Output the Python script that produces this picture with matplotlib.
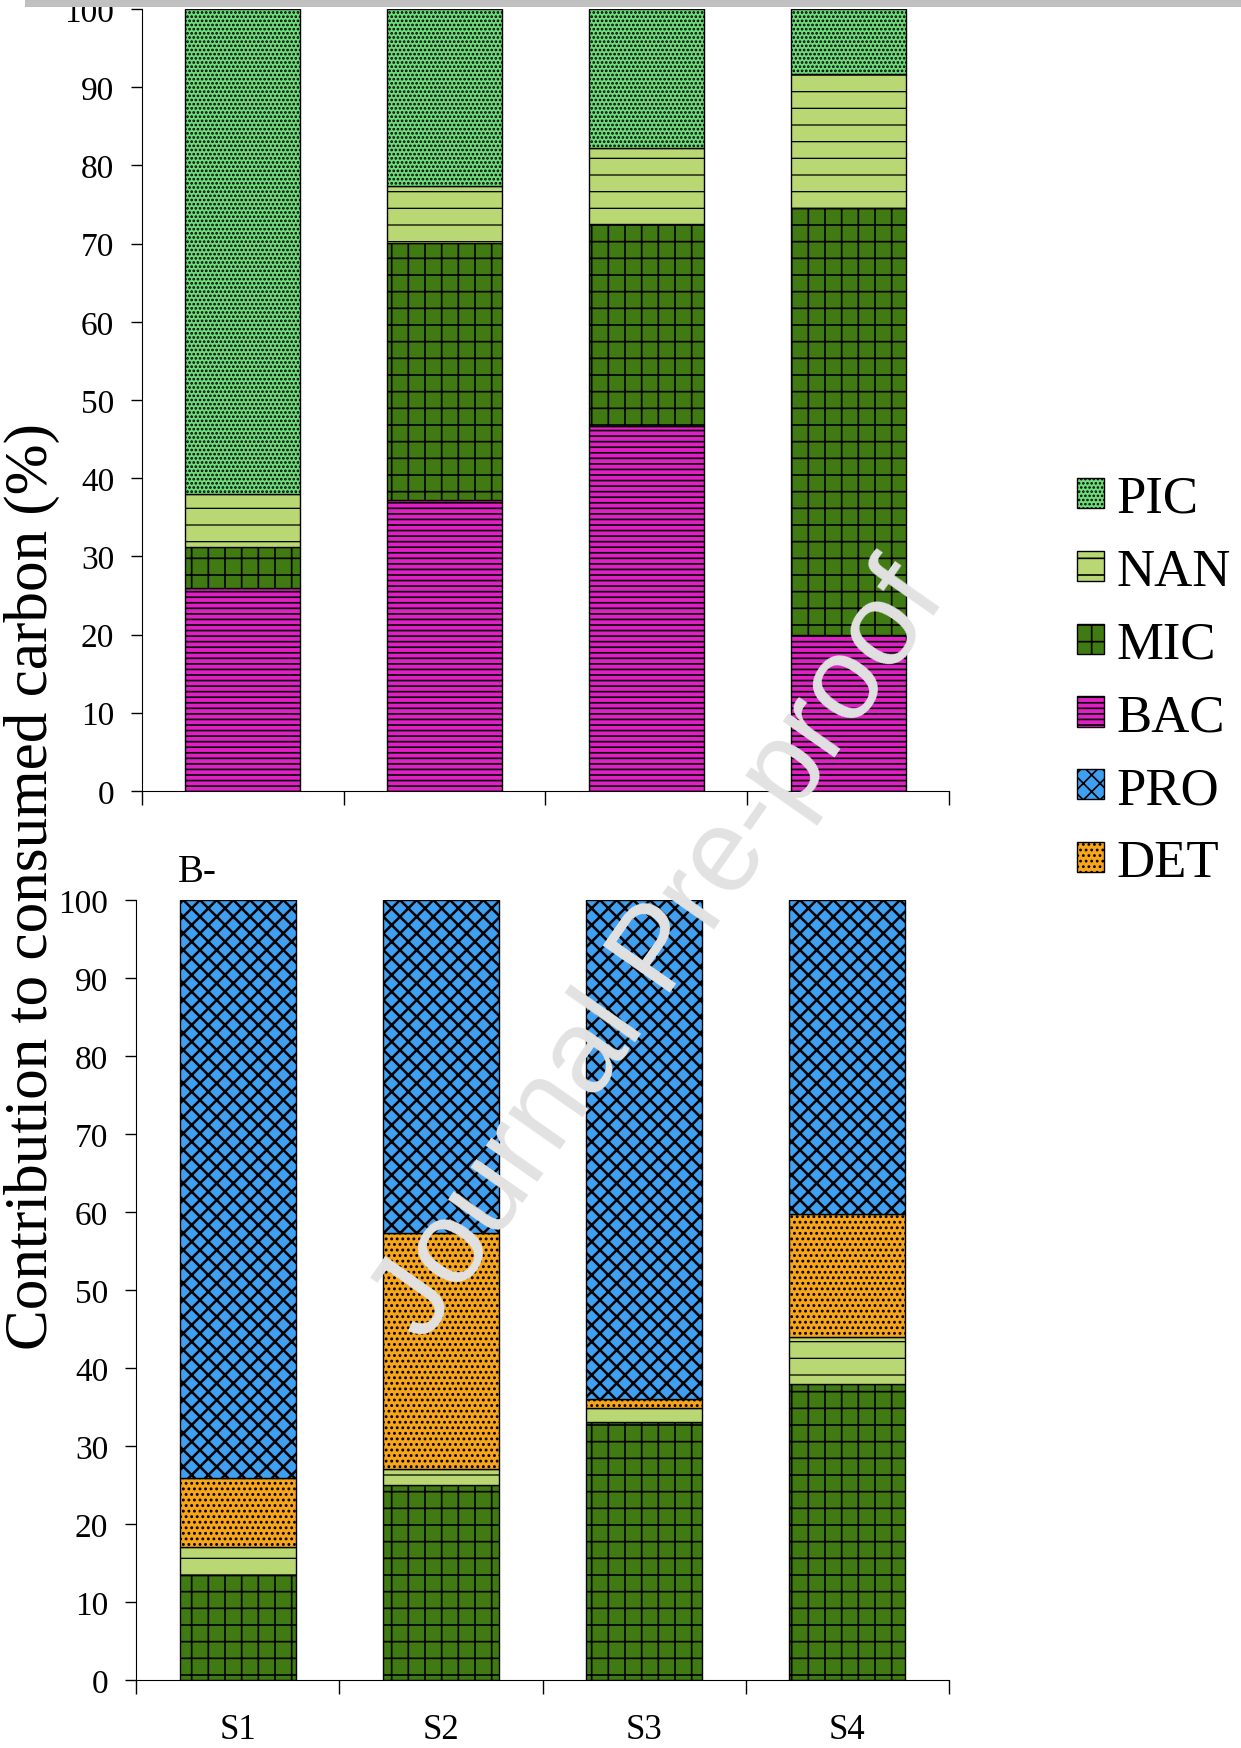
import matplotlib.pyplot as plt
from matplotlib.patches import Patch, Rectangle
import numpy as np

plt.rcParams['font.family'] = ['Liberation Serif', 'DejaVu Serif']
plt.rcParams['hatch.linewidth'] = 1.2

# data
sites = ['S1', 'S2', 'S3', 'S4']

# panel A (stacked from bottom)
bac_a = [25.9, 37.2, 46.7, 19.9]
mic_a = [5.3, 32.9, 25.8, 54.7]
nan_a = [6.8, 7.3, 9.7, 17.1]
pic_a = [62.0, 22.6, 17.8, 8.3]

# panel B (stacked from bottom)
mic_b = [13.4, 25.0, 33.1, 38.0]
nan_b = [3.7, 2.1, 1.8, 6.0]
det_b = [8.8, 30.2, 1.1, 15.7]
pro_b = [74.1, 42.7, 64.0, 40.3]

# look of each group: colour, hatch, hatch line width
style = {
    'PIC': ('#6fdc7c', '....', 1.3),
    'NAN': ('#b9d873', '-', 0.9),
    'MIC': ('#3f7a12', '+', 1.2),
    'BAC': ('#e020c4', '---', 1.2),
    'PRO': ('#3f9ff0', 'xx', 1.8),
    'DET': ('#f7a51a', '...', 1.3),
}

fig = plt.figure(figsize=(12.41, 17.49), dpi=100)
axA = fig.add_axes([0.1144, 0.5472, 0.6503, 0.4471])
axB = fig.add_axes([0.1096, 0.0389, 0.6551, 0.4459])

x = np.arange(len(sites))
w = 0.57

def stack(ax, series):
    bottom = np.zeros(len(sites))
    for name, vals in series:
        col, h, hlw = style[name]
        with plt.rc_context({'hatch.linewidth': hlw}):
            ax.bar(x, vals, w, bottom=bottom, color=col, hatch=h,
                   edgecolor='black', linewidth=1.0)
        bottom += np.array(vals)

stack(axA, [('BAC', bac_a), ('MIC', mic_a), ('NAN', nan_a), ('PIC', pic_a)])
stack(axB, [('MIC', mic_b), ('NAN', nan_b), ('DET', det_b), ('PRO', pro_b)])

for ax in (axA, axB):
    ax.set_xlim(-0.5, 3.5)
    ax.set_ylim(0, 100)
    ax.set_yticks(np.arange(0, 101, 10))
    ax.spines['top'].set_visible(False)
    ax.spines['right'].set_visible(False)
    ax.tick_params(axis='y', labelsize=24, length=8, width=1, direction='out', pad=12)
    ax.set_xticks(x)
    ax.set_xticks(np.arange(-0.5, 4, 1), minor=True)
    ax.tick_params(axis='x', which='major', length=0, labelsize=25, pad=24)
    ax.tick_params(axis='x', which='minor', length=10, width=1, direction='out')

axA.set_xticklabels([])
axB.set_xticklabels(sites)

fig.text(0.0255, 0.493, 'Contribution to consumed carbon (%)', rotation=90,
         ha='center', va='center', fontsize=44)
fig.text(0.1434, 0.5014, 'B-', ha='left', va='center', fontsize=28)

names = ['PIC', 'NAN', 'MIC', 'BAC', 'PRO', 'DET']
handles = []
for n in names:
    with plt.rc_context({'hatch.linewidth': style[n][2]}):
        handles.append(Patch(facecolor=style[n][0], hatch=style[n][1],
                             edgecolor='black', linewidth=1))
fig.legend(handles, names, loc='upper left', bbox_to_anchor=(0.851, 0.74),
           frameon=False, fontsize=38, handlelength=0.5, handleheight=0.5,
           handletextpad=0.25, labelspacing=0.47, borderaxespad=0)

# watermark
fig.text(0.533, 0.455, 'Journal Pre-proof', rotation=55, ha='center', va='center',
         fontsize=85, color='#e2e2e2', family='Liberation Sans', zorder=10)

# grey strip at the top
fig.patches.append(Rectangle((0.02, 0.9955), 0.98, 0.0045, transform=fig.transFigure,
                             facecolor='#c0c0c0', edgecolor='none', zorder=20))

fig.savefig('out.png', dpi=100)
